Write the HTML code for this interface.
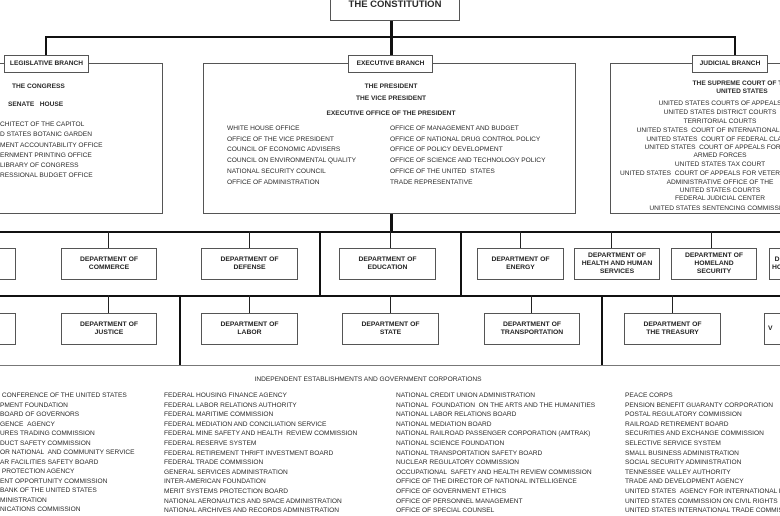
<!DOCTYPE html>
<html><head><meta charset="utf-8"><style>
html,body{margin:0;width:780px;height:516px;overflow:hidden;background:#fff}
#w{position:relative;width:780px;height:516px;overflow:hidden;font-family:"Liberation Sans",sans-serif;color:#222}
#w div{position:absolute;box-sizing:border-box}
.t{white-space:nowrap;font-size:6.6px;line-height:8px;color:#2a2a2a}
.b{font-weight:bold}
.box{border:1px solid #555;background:#fff}
.lbl{border:1px solid #555;background:#fff;font-weight:bold;font-size:6.6px;text-align:center;line-height:16px;white-space:nowrap}
.h{height:2px;background:#111}
.v{width:2px;background:#111}
.d{border:1px solid #555;background:#fff;font-family:"Liberation Sans Narrow","Liberation Sans",sans-serif;font-weight:bold;font-size:6.8px;line-height:8px;text-align:center;display:flex;align-items:center;justify-content:center;color:#222;overflow:hidden}
.c{text-align:center}
</style></head><body><div id="w">
<div class="box" style="left:330px;top:-10px;width:130px;height:31px"></div>
<div class="t b" style="left:330px;width:130px;top:0px;font-size:9.5px;line-height:10px;text-align:center">THE CONSTITUTION</div>
<div class="v" style="left:390px;top:21px;height:17px;width:3px"></div>
<div class="h" style="left:45px;top:36px;width:691px"></div>
<div class="v" style="left:45px;top:36px;height:20px"></div>
<div class="v" style="left:734px;top:36px;height:20px"></div>
<div class="v" style="left:390px;top:36px;height:20px;width:3px"></div>

<div class="box" style="left:-2px;top:63px;width:165px;height:151px"></div>
<div class="lbl" style="left:4px;top:55px;width:85px;height:18px">LEGISLATIVE BRANCH</div>
<div class="t b" style="left:12px;top:83px">THE CONGRESS</div>
<div class="t b" style="left:8px;top:101px">SENATE &nbsp; HOUSE</div>
<div class="t" style="left:0;top:120px;line-height:10.3px">CHITECT OF THE CAPITOL<br>D STATES BOTANIC GARDEN<br>MENT ACCOUNTABILITY OFFICE<br>ERNMENT PRINTING OFFICE<br>LIBRARY OF CONGRESS<br>RESSIONAL BUDGET OFFICE</div>

<div class="box" style="left:203px;top:63px;width:373px;height:151px"></div>
<div class="lbl" style="left:348px;top:55px;width:85px;height:18px">EXECUTIVE BRANCH</div>
<div class="t b c" style="left:291px;width:200px;top:83px">THE PRESIDENT</div>
<div class="t b c" style="left:291px;width:200px;top:95px">THE VICE PRESIDENT</div>
<div class="t b c" style="left:291px;width:200px;top:110px">EXECUTIVE OFFICE OF THE PRESIDENT</div>
<div class="t" style="left:227px;top:124px;line-height:10.7px">WHITE HOUSE OFFICE<br>OFFICE OF THE VICE PRESIDENT<br>COUNCIL OF ECONOMIC ADVISERS<br>COUNCIL ON ENVIRONMENTAL QUALITY<br>NATIONAL SECURITY COUNCIL<br>OFFICE OF ADMINISTRATION</div>
<div class="t" style="left:390px;top:124px;line-height:10.7px">OFFICE OF MANAGEMENT AND BUDGET<br>OFFICE OF NATIONAL DRUG CONTROL POLICY<br>OFFICE OF POLICY DEVELOPMENT<br>OFFICE OF SCIENCE AND TECHNOLOGY POLICY<br>OFFICE OF THE UNITED &nbsp;STATES<br>TRADE REPRESENTATIVE</div>

<div class="box" style="left:610px;top:63px;width:190px;height:151px"></div>
<div class="lbl" style="left:692px;top:55px;width:76px;height:18px">JUDICIAL BRANCH</div>
<div class="t b c" style="left:642px;width:200px;top:80px;line-height:7.5px">THE SUPREME COURT OF THE<br>UNITED STATES</div>
<div class="t c" style="left:620px;width:200px;top:99px;line-height:9px">UNITED STATES COURTS OF APPEALS<br>UNITED STATES DISTRICT COURTS<br>TERRITORIAL COURTS<br>UNITED STATES &nbsp;COURT OF INTERNATIONAL TRADE<br>UNITED STATES &nbsp;COURT OF FEDERAL CLAIMS</div>
<div class="t c" style="left:620px;width:200px;top:144px;line-height:7.5px">UNITED STATES &nbsp;COURT OF APPEALS FOR THE<br>ARMED FORCES</div>
<div class="t c" style="left:620px;width:200px;top:160px;line-height:9px">UNITED STATES TAX COURT<br>UNITED STATES &nbsp;COURT OF APPEALS FOR VETERANS CLAIMS</div>
<div class="t c" style="left:620px;width:200px;top:179px;line-height:7.5px">ADMINISTRATIVE OFFICE OF THE<br>UNITED STATES COURTS</div>
<div class="t c" style="left:620px;width:200px;top:194px;line-height:9.5px">FEDERAL JUDICIAL CENTER<br>UNITED STATES SENTENCING COMMISSION</div>

<div class="v" style="left:390px;top:214px;height:19px;width:3px"></div>
<div class="h" style="left:0;top:231px;width:780px"></div>
<div class="v" style="left:319px;top:231px;height:66px"></div>
<div class="v" style="left:460px;top:231px;height:66px"></div>
<div class="h" style="left:0;top:295px;width:780px"></div>
<div class="v" style="left:179px;top:295px;height:71px"></div>
<div class="v" style="left:601px;top:295px;height:71px"></div>
<div style="left:0;top:365px;width:780px;height:1px;background:#777"></div>

<div class="v" style="left:108px;top:231px;height:17px;width:1px;background:#222"></div>
<div class="v" style="left:249px;top:231px;height:17px;width:1px;background:#222"></div>
<div class="v" style="left:390px;top:231px;height:17px;width:1px;background:#222"></div>
<div class="v" style="left:520px;top:231px;height:17px;width:1px;background:#222"></div>
<div class="v" style="left:611px;top:231px;height:17px;width:1px;background:#222"></div>
<div class="v" style="left:711px;top:231px;height:17px;width:1px;background:#222"></div>
<div class="d" style="left:-10px;top:248px;width:26px;height:32px"></div>
<div class="d" style="left:61px;top:248px;width:96px;height:32px">DEPARTMENT OF<br>COMMERCE</div>
<div class="d" style="left:201px;top:248px;width:97px;height:32px">DEPARTMENT OF<br>DEFENSE</div>
<div class="d" style="left:339px;top:248px;width:97px;height:32px">DEPARTMENT OF<br>EDUCATION</div>
<div class="d" style="left:477px;top:248px;width:87px;height:32px">DEPARTMENT OF<br>ENERGY</div>
<div class="d" style="left:574px;top:248px;width:86px;height:32px">DEPARTMENT OF<br>HEALTH AND HUMAN<br>SERVICES</div>
<div class="d" style="left:671px;top:248px;width:86px;height:32px">DEPARTMENT OF<br>HOMELAND<br>SECURITY</div>
<div class="d" style="left:769px;top:248px;width:20px;height:32px;justify-content:flex-start;padding-left:2px">D<br>HO</div>

<div class="v" style="left:108px;top:295px;height:18px;width:1px;background:#222"></div>
<div class="v" style="left:249px;top:295px;height:18px;width:1px;background:#222"></div>
<div class="v" style="left:390px;top:295px;height:18px;width:1px;background:#222"></div>
<div class="v" style="left:531px;top:295px;height:18px;width:1px;background:#222"></div>
<div class="v" style="left:672px;top:295px;height:18px;width:1px;background:#222"></div>
<div class="d" style="left:-10px;top:313px;width:26px;height:32px"></div>
<div class="d" style="left:61px;top:313px;width:96px;height:32px">DEPARTMENT OF<br>JUSTICE</div>
<div class="d" style="left:201px;top:313px;width:97px;height:32px">DEPARTMENT OF<br>LABOR</div>
<div class="d" style="left:342px;top:313px;width:97px;height:32px">DEPARTMENT OF<br>STATE</div>
<div class="d" style="left:484px;top:313px;width:96px;height:32px">DEPARTMENT OF<br>TRANSPORTATION</div>
<div class="d" style="left:624px;top:313px;width:97px;height:32px">DEPARTMENT OF<br>THE TREASURY</div>
<div class="d" style="left:764px;top:313px;width:20px;height:32px;justify-content:flex-start;padding-left:3px">V</div>

<div class="t c" style="left:168px;width:400px;top:376px">INDEPENDENT ESTABLISHMENTS AND GOVERNMENT CORPORATIONS</div>
<div class="t" style="left:0;top:391px;line-height:9.5px">&nbsp;CONFERENCE OF THE UNITED STATES<br>PMENT FOUNDATION<br>BOARD OF GOVERNORS<br>GENCE &nbsp;AGENCY<br>URES TRADING COMMISSION<br>DUCT SAFETY COMMISSION<br>OR NATIONAL &nbsp;AND COMMUNITY SERVICE<br>AR FACILITIES SAFETY BOARD<br>&nbsp;PROTECTION AGENCY<br>ENT OPPORTUNITY COMMISSION<br>BANK OF THE UNITED STATES<br>MINISTRATION<br>NICATIONS COMMISSION<br>T INSURANCE CORPORATION</div>
<div class="t" style="left:164px;top:391px;line-height:9.6px">FEDERAL HOUSING FINANCE AGENCY<br>FEDERAL LABOR RELATIONS AUTHORITY<br>FEDERAL MARITIME COMMISSION<br>FEDERAL MEDIATION AND CONCILIATION SERVICE<br>FEDERAL MINE SAFETY AND HEALTH &nbsp;REVIEW COMMISSION<br>FEDERAL RESERVE SYSTEM<br>FEDERAL RETIREMENT THRIFT INVESTMENT BOARD<br>FEDERAL TRADE COMMISSION<br>GENERAL SERVICES ADMINISTRATION<br>INTER-AMERICAN FOUNDATION<br>MERIT SYSTEMS PROTECTION BOARD<br>NATIONAL AERONAUTICS AND SPACE ADMINISTRATION<br>NATIONAL ARCHIVES AND RECORDS ADMINISTRATION</div>
<div class="t" style="left:396px;top:391px;line-height:9.6px">NATIONAL CREDIT UNION ADMINISTRATION<br>NATIONAL &nbsp;FOUNDATION &nbsp;ON THE ARTS AND THE HUMANITIES<br>NATIONAL LABOR RELATIONS BOARD<br>NATIONAL MEDIATION BOARD<br>NATIONAL RAILROAD PASSENGER CORPORATION (AMTRAK)<br>NATIONAL SCIENCE FOUNDATION<br>NATIONAL TRANSPORTATION SAFETY BOARD<br>NUCLEAR REGULATORY COMMISSION<br>OCCUPATIONAL &nbsp;SAFETY AND HEALTH REVIEW COMMISSION<br>OFFICE OF THE DIRECTOR OF NATIONAL INTELLIGENCE<br>OFFICE OF GOVERNMENT ETHICS<br>OFFICE OF PERSONNEL MANAGEMENT<br>OFFICE OF SPECIAL COUNSEL<br>OVERSEAS PRIVATE INVESTMENT CORPORATION</div>
<div class="t" style="left:625px;top:391px;line-height:9.6px">PEACE CORPS<br>PENSION BENEFIT GUARANTY CORPORATION<br>POSTAL REGULATORY COMMISSION<br>RAILROAD RETIREMENT BOARD<br>SECURITIES AND EXCHANGE COMMISSION<br>SELECTIVE SERVICE SYSTEM<br>SMALL BUSINESS ADMINISTRATION<br>SOCIAL SECURITY ADMINISTRATION<br>TENNESSEE VALLEY AUTHORITY<br>TRADE AND DEVELOPMENT AGENCY<br>UNITED STATES &nbsp;AGENCY FOR INTERNATIONAL DEVELOPMENT<br>UNITED STATES COMMISSION ON CIVIL RIGHTS<br>UNITED STATES INTERNATIONAL TRADE COMMISSION<br>UNITED STATES POSTAL SERVICE</div>
</div></body></html>
